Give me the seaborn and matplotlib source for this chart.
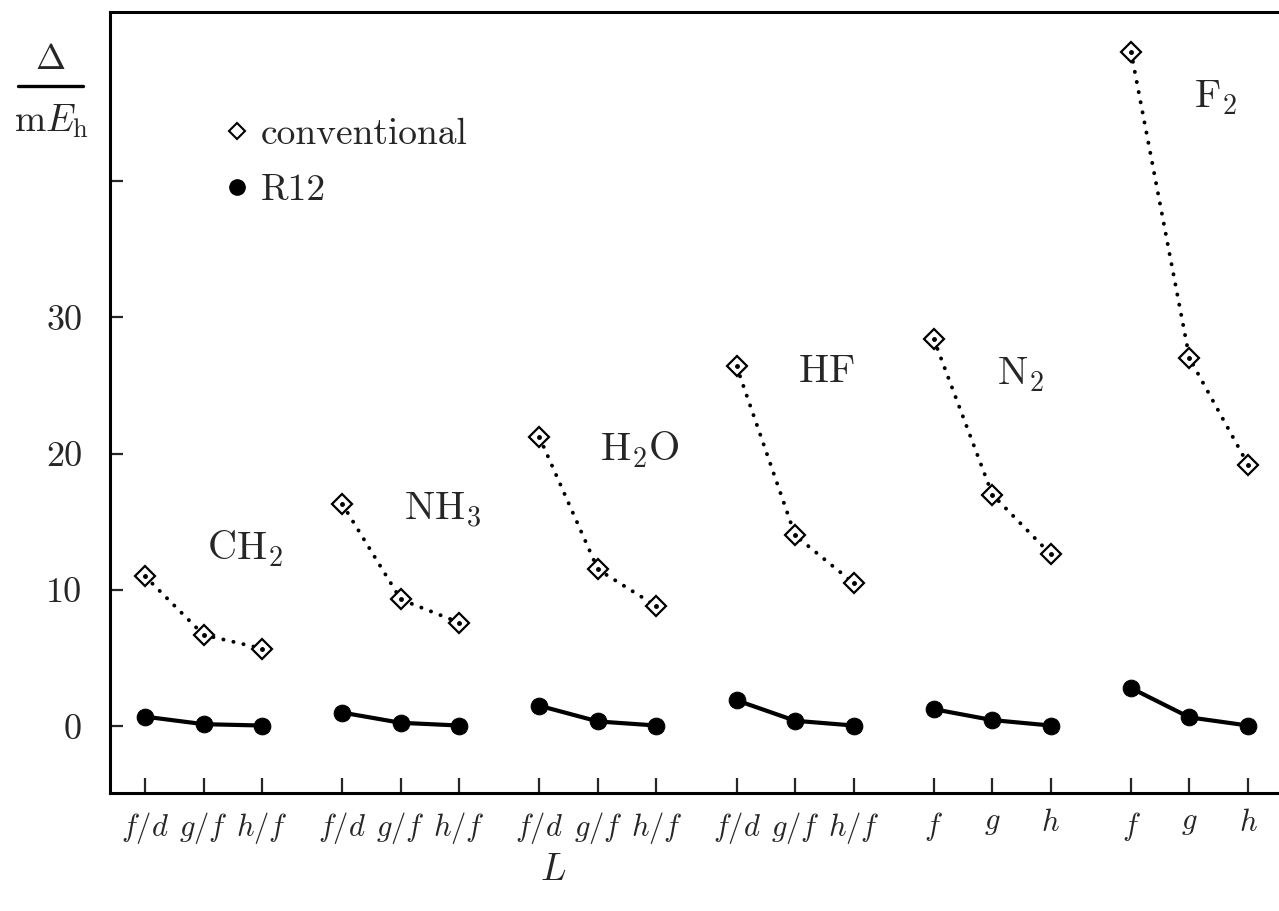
import numpy as np
import pandas as pd
import seaborn as sns
import matplotlib
matplotlib.use("Agg")
import matplotlib.pyplot as plt
from matplotlib.lines import Line2D

molecules = ["CH$_2$", "NH$_3$", "H$_2$O", "HF", "N$_2$", "F$_2$"]
basis_labels = [["f/d", "g/f", "h/f"], ["f/d", "g/f", "h/f"], ["f/d", "g/f", "h/f"],
                ["f/d", "g/f", "h/f"], ["f", "g", "h"], ["f", "g", "h"]]
conventional = [[11.0, 6.7, 5.7],
                [16.3, 9.3, 7.6],
                [21.2, 11.5, 8.8],
                [26.4, 14.0, 10.5],
                [28.4, 17.0, 12.6],
                [49.5, 27.0, 19.2]]
r12 = [[0.7, 0.15, 0.05],
       [1.0, 0.25, 0.05],
       [1.5, 0.35, 0.05],
       [1.9, 0.40, 0.05],
       [1.25, 0.45, 0.05],
       [2.8, 0.65, 0.05]]
ytick_values = [0, 10, 20, 30, 40]
ytick_labels = ["0", "10", "20", "30", ""]

sns.set_theme(style="white")
plt.rcParams["font.family"] = ["cmr10", "DejaVu Serif"]
plt.rcParams["mathtext.fontset"] = "cm"
plt.rcParams["axes.formatter.use_mathtext"] = True

group_gap = 3.37
rows = []
for g, mol in enumerate(molecules):
    for j in range(3):
        x = g * group_gap + j
        rows.append(dict(molecule=mol, x=x, method="conventional", value=conventional[g][j]))
        rows.append(dict(molecule=mol, x=x, method="R12", value=r12[g][j]))
df = pd.DataFrame(rows)

fig = plt.figure(figsize=(12.79, 9.11), dpi=100)
ax = fig.add_axes([110 / 1279, 1 - 793 / 911, 1 - 110 / 1279 + 0.01, (793 - 12) / 911])

conv = df[df.method == "conventional"]
rr = df[df.method == "R12"]
sns.lineplot(data=conv, x="x", y="value", units="molecule", estimator=None, ax=ax,
             color="black", linewidth=2.8, linestyle=(0, (0.05, 2.6)),
             dash_capstyle="round", marker="D", markersize=10, markerfacecolor="white",
             markeredgecolor="black", markeredgewidth=1.6, legend=False)
ax.plot(conv["x"], conv["value"], linestyle="none", marker="o", markersize=2.5, color="black")
sns.lineplot(data=rr, x="x", y="value", units="molecule", estimator=None, ax=ax,
             color="black", linewidth=3.0, marker="o", markersize=12,
             markeredgecolor="black", legend=False)

xt = [g * group_gap + j for g in range(6) for j in range(3)]
xl = ["$" + l + "$" for g in range(6) for l in basis_labels[g]]
ax.set_xticks(xt)
ax.set_xticklabels(xl, fontsize=22)
ax.set_yticks(ytick_values)
ax.set_yticklabels(ytick_labels, fontsize=26)
ax.set_xlim(-0.6, 19.38 + 0.01 * 1279 / 58.5)
ax.set_ylim(-4.9, 52.4)
ax.tick_params(axis="x", direction="in", length=11, width=1.6, pad=12, bottom=True)
ax.tick_params(axis="y", direction="in", length=9, width=1.6, pad=20, left=True)
for s in ["left", "bottom", "top"]:
    ax.spines[s].set_linewidth(2.2)
    ax.spines[s].set_color("black")
ax.spines["right"].set_visible(False)
ax.set_xlabel("")
ax.set_ylabel("")
ax.grid(False)

label_pos = [(1.71, 13.0), (5.09, 15.8), (8.46, 20.3), (11.64, 26.0), (14.96, 25.8), (18.29, 46.1)]
for mol, (lx, ly) in zip(molecules, label_pos):
    ax.text(lx, ly, r"$\mathrm{" + mol.replace("$", "") + "}$", fontsize=29,
            ha="center", va="center")

# legend
handles = [Line2D([], [], linestyle="none", marker="D", markersize=8, markerfacecolor="white",
                  markeredgecolor="black", markeredgewidth=1.5),
           Line2D([], [], linestyle="none", marker="o", markersize=11, color="black")]
ax.legend(handles, ["conventional", "R12"], loc="upper left", bbox_to_anchor=(0.092, 0.864),
          frameon=False, fontsize=27, handletextpad=0.13, labelspacing=0.6, handlelength=1.0,
          borderaxespad=0, borderpad=0)

# y label as fraction
fig.text(50 / 1279, 1 - 60 / 911, r"$\Delta$", fontsize=26, ha="center", va="center")
fig.add_artist(Line2D([18 / 1279, 83 / 1279], [1 - 86 / 911, 1 - 86 / 911], color="black",
                      linewidth=2.4, transform=fig.transFigure))
fig.text(52 / 1279, 1 - 121 / 911, r"$\mathrm{m}E_\mathrm{h}$", fontsize=27, ha="center", va="center")
fig.text(553 / 1279, 1 - 870 / 911, r"$L$", fontsize=27, ha="center", va="center")

fig.savefig("out.png", dpi=100)
